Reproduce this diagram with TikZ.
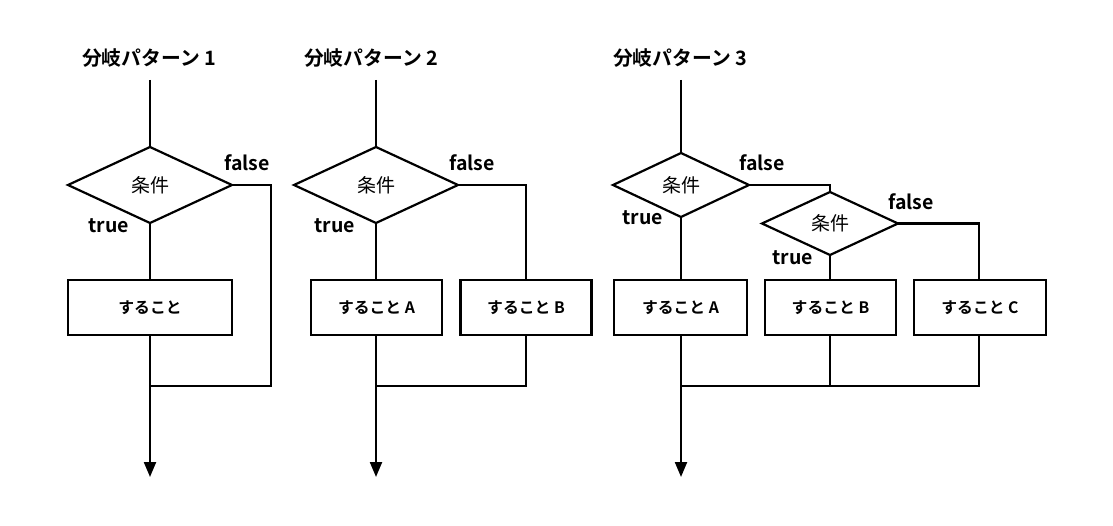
\documentclass[tikz,border=0pt]{standalone}
\usepackage{fontspec}
\setmainfont{Noto Sans CJK JP}[BoldFont={Noto Sans CJK JP Bold}]
\usetikzlibrary{shapes.geometric,arrows.meta}
\begin{document}
\begin{tikzpicture}[x=1pt,y=-1pt,
  line width=2.2pt,
  cond/.style={draw,diamond,inner sep=0pt,outer sep=0pt,font=\fontsize{19}{19}\selectfont},
  cond1/.style={cond,minimum width=164pt,minimum height=76pt},
  cond2/.style={cond,minimum width=136pt,minimum height=64pt},
  act/.style={draw,rectangle,inner sep=0pt,outer sep=0pt,minimum height=55pt,font=\bfseries\fontsize{15.8}{15.8}\selectfont},
  ttl/.style={font=\bfseries\fontsize{19.8}{19.8}\selectfont},
  lbl/.style={font=\bfseries\fontsize{19.5}{19.5}\selectfont,inner sep=0pt},
  flow/.style={-{Triangle[width=12pt,length=15pt]}}
]
\useasboundingbox (0,0) rectangle (1113,526);

% ---------- Pattern 1 ----------
\node[ttl] (t1) at (149,58) {分岐パターン 1};
\coordinate (s1) at (150,80);
\node[cond1] (c1) at (150,185) {条件};
\node[act,minimum width=164pt] (a1) at (150,307.5) {すること};
\coordinate (j1) at (150,386);
\coordinate (e1) at (150,477);
\coordinate (f1) at (271,185);
\coordinate (g1) at (271,386);
\node[lbl] at (247,163) {false};
\node[lbl] at (109,226) {true};
\draw (s1) -- (c1.north);
\draw (c1.south) -- (a1.north);
\draw (c1.east) -- (f1) -- (g1) -- (j1);
\draw[flow] (a1.south) -- (e1);

% ---------- Pattern 2 ----------
\node[ttl] (t2) at (371,58) {分岐パターン 2};
\coordinate (s2) at (376,80);
\node[cond1] (c2) at (376,185) {条件};
\node[act,minimum width=131pt] (a2) at (376.5,307.5) {すること A};
\node[act,minimum width=131pt] (b2) at (526,307.5) {すること B};
\coordinate (j2) at (376,386);
\coordinate (e2) at (376,477);
\coordinate (f2) at (526,185);
\coordinate (g2) at (526,386);
\node[lbl] at (472,163) {false};
\node[lbl] at (335,226) {true};
\draw (s2) -- (c2.north);
\draw (c2.south) -- (c2.south |- a2.north);
\draw (c2.east) -- (f2) -- (b2.north);
\draw (b2.south) -- (g2) -- (j2);
\draw[flow] (c2.south |- a2.south) -- (e2);

% ---------- Pattern 3 ----------
\node[ttl] (t3) at (680,58) {分岐パターン 3};
\coordinate (s3) at (681,80);
\node[cond2] (c3) at (681,185) {条件};
\node[cond2,minimum height=63pt] (d3) at (830,223.5) {条件};
\node[act,minimum width=133pt] (a3) at (680.5,307.5) {すること A};
\node[act,minimum width=131pt] (b3) at (830.5,307.5) {すること B};
\node[act,minimum width=132pt] (k3) at (980,307.5) {すること C};
\coordinate (j3) at (681,386);
\coordinate (e3) at (681,477);
\coordinate (f3) at (830,185);
\coordinate (h3) at (979,223.5);
\coordinate (m3) at (830,386);
\coordinate (g3) at (979,386);
\node[lbl] at (762,163) {false};
\node[lbl] at (911,202) {false};
\node[lbl] at (643,218) {true};
\node[lbl] at (793,258) {true};
\draw (s3) -- (c3.north);
\draw (c3.south) -- (c3.south |- a3.north);
\draw (c3.east) -- (f3) -- (d3.north);
\draw (d3.south) -- (d3.south |- b3.north);
\draw (d3.east) -- (h3) -- (h3 |- k3.north);
\draw (h3 |- k3.south) -- (g3) -- (j3);
\draw (d3.south |- b3.south) -- (m3);
\draw[flow] (c3.south |- a3.south) -- (e3);
\end{tikzpicture}
\end{document}
